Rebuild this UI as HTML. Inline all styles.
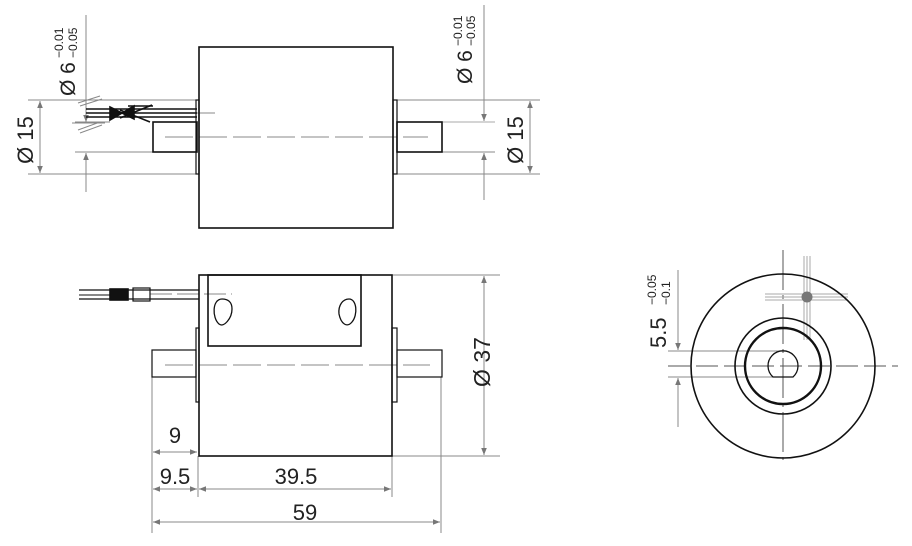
<!DOCTYPE html>
<html><head><meta charset="utf-8"><style>
html,body{margin:0;padding:0;background:#fff;}
svg{display:block;}
text{font-family:"Liberation Sans",sans-serif;fill:#222;}
</style></head><body>
<svg width="912" height="546" viewBox="0 0 912 546" xmlns="http://www.w3.org/2000/svg">
<defs>
<marker id="a" viewBox="0 0 10 10" refX="10" refY="5" markerWidth="9" markerHeight="7" orient="auto-start-reverse" markerUnits="userSpaceOnUse"><path d="M0,1 L10,5 L0,9 Z" fill="#777"/></marker>
</defs>
<g fill="none" stroke="#888" stroke-width="1">
<!-- TOP VIEW dims -->
<line x1="28" y1="100" x2="197" y2="100"/>
<line x1="28" y1="174" x2="197" y2="174"/>
<line x1="40" y1="101" x2="40" y2="173" marker-start="url(#a)" marker-end="url(#a)"/>
<line x1="86" y1="15" x2="86" y2="122" marker-end="url(#a)"/>
<line x1="86" y1="192" x2="86" y2="153" marker-end="url(#a)"/>
<line x1="75" y1="122" x2="110" y2="122"/>
<line x1="75" y1="152" x2="153" y2="152"/>
<line x1="397" y1="100" x2="540" y2="100"/>
<line x1="397" y1="174" x2="540" y2="174"/>
<line x1="530" y1="101" x2="530" y2="173" marker-start="url(#a)" marker-end="url(#a)"/>
<line x1="442" y1="122" x2="495" y2="122" stroke="#aaa"/>
<line x1="442" y1="152" x2="495" y2="152"/>
<line x1="484" y1="5" x2="484" y2="121" marker-end="url(#a)"/>
<line x1="484" y1="200" x2="484" y2="153" marker-end="url(#a)"/>
<line x1="78" y1="103" x2="100" y2="96"/><line x1="80" y1="106" x2="102" y2="99"/>
<line x1="78" y1="130" x2="100" y2="122"/><line x1="80" y1="133" x2="102" y2="125"/>
<line x1="72" y1="123" x2="105" y2="123"/>
<line x1="150" y1="113" x2="215" y2="113"/>
<line x1="165" y1="137" x2="428" y2="137" stroke-dasharray="28,6"/>
<!-- BOTTOM VIEW dims -->
<line x1="392" y1="275" x2="500" y2="275"/>
<line x1="392" y1="456" x2="500" y2="456"/>
<line x1="484" y1="276" x2="484" y2="455" marker-start="url(#a)" marker-end="url(#a)"/>
<line x1="152" y1="377" x2="152" y2="533"/>
<line x1="198" y1="456" x2="198" y2="497"/>
<line x1="392" y1="456" x2="392" y2="497"/>
<line x1="441" y1="377" x2="441" y2="533"/>
<line x1="153" y1="452" x2="197" y2="452" marker-start="url(#a)" marker-end="url(#a)"/>
<line x1="153" y1="489" x2="197" y2="489" marker-start="url(#a)" marker-end="url(#a)"/>
<line x1="199" y1="489" x2="391" y2="489" marker-start="url(#a)" marker-end="url(#a)"/>
<line x1="153" y1="522" x2="440" y2="522" marker-start="url(#a)" marker-end="url(#a)"/>
<line x1="165" y1="365" x2="430" y2="365" stroke-dasharray="28,6"/>
<line x1="150" y1="294" x2="232" y2="294" stroke-dasharray="22,5"/>
<!-- RIGHT VIEW -->
<line x1="783" y1="250" x2="783" y2="460" stroke="#555" stroke-dasharray="40,5,4,5"/>
<line x1="668" y1="366" x2="898" y2="366" stroke="#555" stroke-dasharray="22,6"/>
<line x1="668" y1="351" x2="783" y2="351"/>
<line x1="668" y1="377" x2="783" y2="377"/>
<line x1="678" y1="270" x2="678" y2="350" marker-end="url(#a)"/>
<line x1="678" y1="427" x2="678" y2="378" marker-end="url(#a)"/>
<line x1="804" y1="256" x2="804" y2="340" stroke="#aaa"/><line x1="807" y1="256" x2="807" y2="340" stroke="#aaa"/><line x1="810" y1="256" x2="810" y2="340" stroke="#aaa"/>
<line x1="765" y1="294" x2="848" y2="294" stroke="#aaa"/><line x1="765" y1="297" x2="848" y2="297" stroke="#aaa"/><line x1="765" y1="300" x2="848" y2="300" stroke="#aaa"/>
</g>
<g fill="none" stroke="#111" stroke-width="1.6">
<!-- top view -->
<rect x="199" y="47" width="194" height="181"/>
<rect x="196" y="100" width="3" height="74" stroke-width="1.2"/>
<rect x="393" y="100" width="4" height="74" stroke-width="1.2"/>
<rect x="153" y="122" width="44" height="30"/>
<rect x="397" y="122" width="45" height="30"/>
<line x1="86" y1="109" x2="197" y2="109"/>
<line x1="86" y1="113" x2="197" y2="113"/>
<line x1="86" y1="117" x2="197" y2="117"/>
<line x1="128" y1="106" x2="153" y2="106"/>
<line x1="120" y1="110" x2="150" y2="122"/>
<line x1="120" y1="118" x2="152" y2="105"/>
<path d="M110,107 L122,113 L134,106 L134,119 L122,113 L110,120 Z" fill="#111"/>
<!-- bottom view -->
<rect x="199" y="275" width="193" height="181"/>
<rect x="208" y="275" width="153" height="71"/>
<rect x="196" y="328" width="3" height="74" stroke-width="1.2"/>
<rect x="392" y="328" width="5" height="74" stroke-width="1.2"/>
<rect x="152" y="350" width="44" height="27" stroke-width="1.2"/>
<rect x="397" y="350" width="45" height="27" stroke-width="1.2"/>
<path d="M222,299 C212,299 212,318 219,324 C224,328 232,318 232,309 C232,302 228,299 222,299 Z" stroke-width="1.3"/>
<path d="M349,299 C343,299 338,305 339,314 C341,324 347,328 352,322 C358,315 357,299 349,299 Z" stroke-width="1.3"/>
<line x1="79" y1="290" x2="199" y2="290" stroke-width="1.2"/>
<line x1="79" y1="295" x2="110" y2="295" stroke-width="1"/>
<line x1="79" y1="299" x2="199" y2="299" stroke-width="1.2"/>
<rect x="110" y="289" width="18" height="11" fill="#111"/>
<rect x="133" y="288" width="17" height="13" stroke-width="1.2"/>
<!-- right view -->
<circle cx="783" cy="366" r="92"/>
<circle cx="783" cy="366" r="48"/>
<circle cx="783" cy="366" r="38" stroke-width="2.4"/>
<path d="M773,377 A15,15 0 1 1 793,377 Z" stroke-width="1.3"/>
</g>
<circle cx="807" cy="297" r="5.5" fill="#777"/>
<!-- text -->
<text transform="translate(33,140) rotate(-90)" font-size="22" text-anchor="middle">Ø 15</text>
<text transform="translate(75,96) rotate(-90)" font-size="21">Ø 6</text>
<text transform="translate(63,58) rotate(-90)" font-size="12">−0.01</text>
<text transform="translate(77,58) rotate(-90)" font-size="12">−0.05</text>
<text transform="translate(523,140) rotate(-90)" font-size="22" text-anchor="middle">Ø 15</text>
<text transform="translate(472,84) rotate(-90)" font-size="21">Ø 6</text>
<text transform="translate(462,46) rotate(-90)" font-size="12">−0.01</text>
<text transform="translate(475,46) rotate(-90)" font-size="12">−0.05</text>
<text transform="translate(490,362) rotate(-90)" font-size="23" text-anchor="middle">Ø 37</text>
<text x="175" y="443" font-size="22" text-anchor="middle">9</text>
<text x="175" y="484" font-size="22" text-anchor="middle">9.5</text>
<text x="296" y="484" font-size="22" text-anchor="middle">39.5</text>
<text x="305" y="520" font-size="22" text-anchor="middle">59</text>
<text transform="translate(666,348) rotate(-90)" font-size="22">5.5</text>
<text transform="translate(656,305) rotate(-90)" font-size="12">−0.05</text>
<text transform="translate(670,305) rotate(-90)" font-size="12">−0.1</text>
</svg>
</body></html>
